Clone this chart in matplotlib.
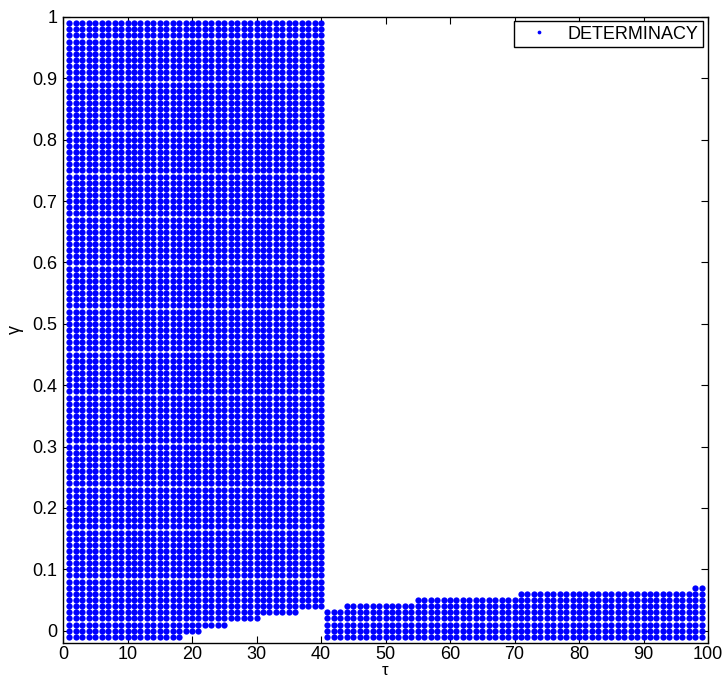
import matplotlib
matplotlib.use("Agg")
import matplotlib.pyplot as plt
import numpy as np

# --- parameter grid ---
tau_values = np.arange(1, 100)
gamma_values = np.round(np.arange(-0.01, 1.0, 0.01), 2)

# left block (tau <= 40): determinacy for gamma >= lower bound
tau_split = 40
lo_tau_start = [1, 19, 22, 26, 31, 37]
lo_gamma = [-0.01, 0.00, 0.01, 0.02, 0.03, 0.04]

# right block (tau > 40): determinacy for gamma <= upper bound
hi_tau_start = [41, 44, 55, 71, 98]
hi_gamma = [0.03, 0.04, 0.05, 0.06, 0.07]

legend_label = "DETERMINACY"
x_ticks = list(range(0, 101, 10))
y_ticks = [round(v, 1) for v in np.arange(0, 1.01, 0.1)]


def bound_for(tau, starts, values):
    idx = np.searchsorted(starts, tau, side="right") - 1
    return values[idx]


pts_x, pts_y = [], []
for t in tau_values:
    if t <= tau_split:
        g0 = bound_for(t, lo_tau_start, lo_gamma)
        keep = gamma_values >= g0 - 1e-9
    else:
        g1 = bound_for(t, hi_tau_start, hi_gamma)
        keep = gamma_values <= g1 + 1e-9
    pts_x.extend([t] * int(keep.sum()))
    pts_y.extend(gamma_values[keep])

plt.rcParams["font.family"] = ["Liberation Sans", "DejaVu Sans"]

fig = plt.figure(figsize=(7.25, 6.79), dpi=100)
ax = fig.add_axes([63 / 725, 36 / 679, 645 / 725, 626 / 679])

ax.plot(pts_x, pts_y, linestyle="none", marker="o", markersize=4.5,
        markeredgewidth=0, color=(0, 0, 1), label=legend_label)

ax.set_xlim(0, 100)
ax.set_ylim(-0.02, 1)
ax.set_xticks(x_ticks)
ax.set_yticks(y_ticks)
ax.set_yticklabels([("%g" % v) for v in y_ticks])
ax.tick_params(direction="in", top=True, right=True, length=5, width=0.8,
               labelsize=13, pad=4)
ax.tick_params(axis="x", pad=2.5)
for s in ax.spines.values():
    s.set_linewidth(1.0)

ax.set_xlabel("τ", fontsize=12, labelpad=-0.5)
ax.set_ylabel("γ", fontsize=13, labelpad=6)

leg = ax.legend(loc="upper right", fontsize=13, frameon=True, fancybox=False,
                markerscale=0.6, handletextpad=0.5, handlelength=2.2,
                borderpad=0.25, borderaxespad=0,
                bbox_to_anchor=(0.9922, 0.9936))
leg.get_frame().set_edgecolor("black")
leg.get_frame().set_linewidth(1.0)
leg.get_frame().set_alpha(1)

fig.savefig("out.png", dpi=100)
